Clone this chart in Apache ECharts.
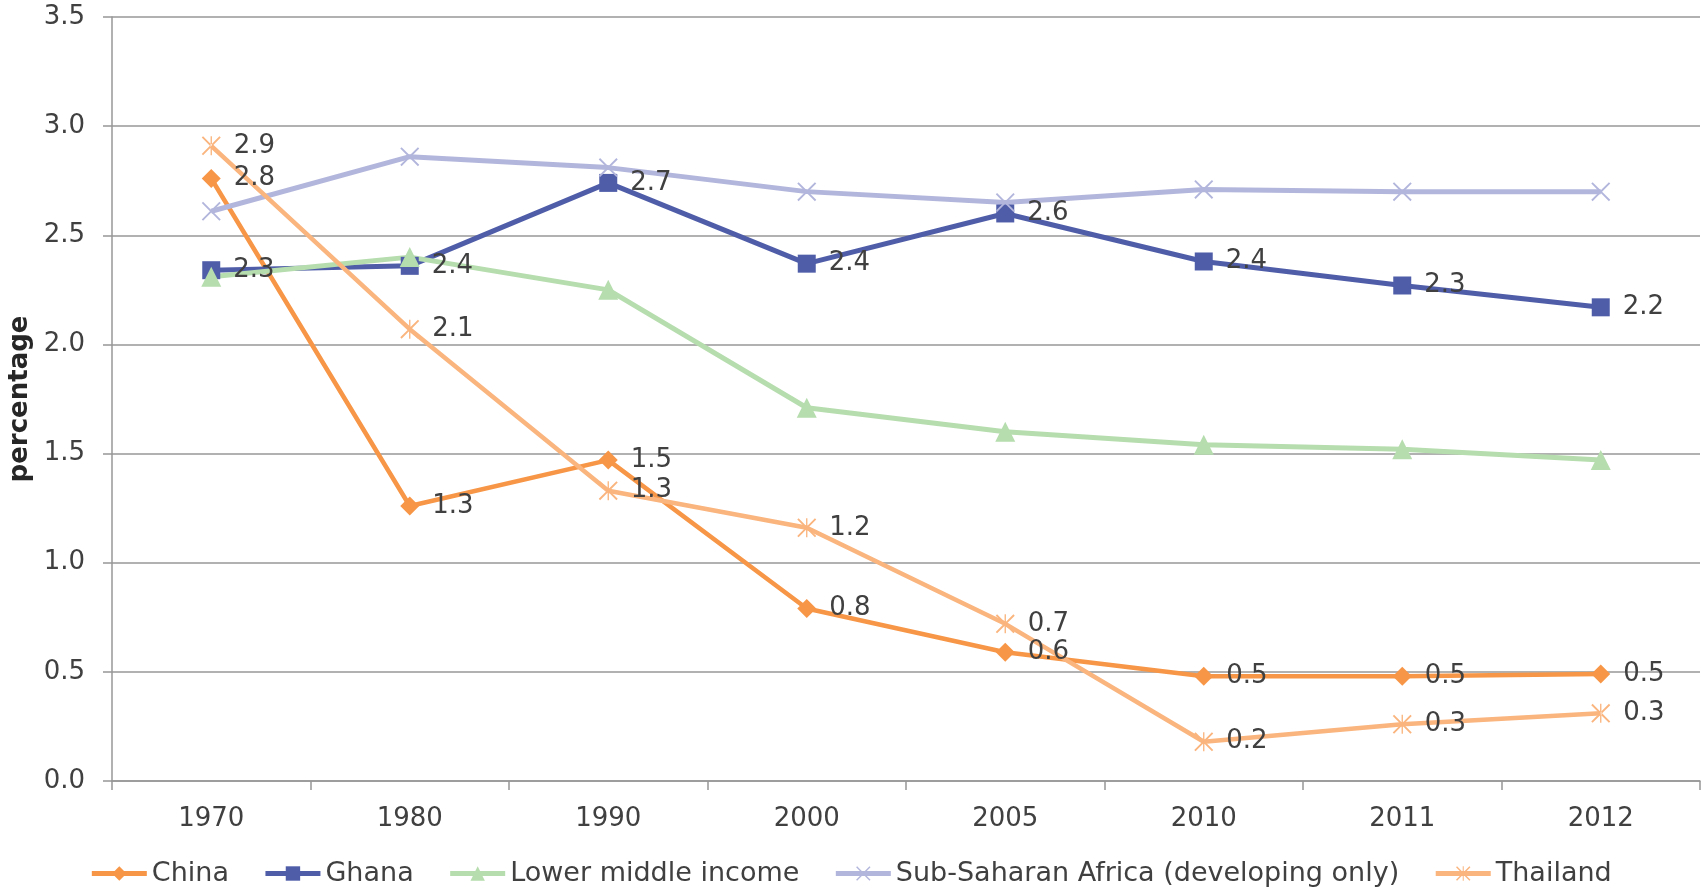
<!DOCTYPE html>
<html>
<head>
<meta charset="utf-8">
<script src="https://cdn.jsdelivr.net/npm/echarts@6/dist/echarts.min.js"></script>
<style>
  html, body { margin: 0; padding: 0; background: #fff; }
  #chart { width: 1701px; height: 889px; }
</style>
</head>
<body>
<div id="chart"></div>
<script>
// Categories (years) and values per series, in percent
const years = ['1970', '1980', '1990', '2000', '2005', '2010', '2011', '2012'];
const china = [2.76, 1.26, 1.47, 0.79, 0.59, 0.48, 0.48, 0.49];
const ghana = [2.34, 2.36, 2.74, 2.37, 2.60, 2.38, 2.27, 2.17];
const lowerMiddleIncome = [2.31, 2.40, 2.25, 1.71, 1.60, 1.54, 1.52, 1.47];
const subSaharanAfrica = [2.61, 2.86, 2.81, 2.70, 2.65, 2.71, 2.70, 2.70];
const thailand = [2.91, 2.07, 1.33, 1.16, 0.72, 0.18, 0.26, 0.31];
const yTicks = { min: 0, max: 3.5, step: 0.5 };

const FONT = '"DejaVu Sans", Verdana, sans-serif';
const TEXT = '#404040';
const GRID = '#979797';

// Thin "x" cross and asterisk-like marker shapes
const CROSS = 'path://M1.4,0 L10,8.6 L18.6,0 L20,1.4 L11.4,10 L20,18.6 L18.6,20 L10,11.4 L1.4,20 L0,18.6 L8.6,10 L0,1.4 Z';
const STAR = 'path://M1.4,0 L10,8.6 L18.6,0 L20,1.4 L11.4,10 L20,18.6 L18.6,20 L10,11.4 L1.4,20 L0,18.6 L8.6,10 L0,1.4 Z M9.3,0 L9.3,20 L10.7,20 L10.7,0 Z';

function valueLabel() {
  return {
    show: true,
    position: 'right',
    distance: 13,
    color: TEXT,
    fontFamily: FONT,
    fontSize: 26,
    formatter: p => p.value.toFixed(1)
  };
}

function lineSeries(name, data, color, symbol, size, width, labelled) {
  return {
    name: name,
    type: 'line',
    data: data,
    symbol: symbol,
    symbolSize: size,
    showAllSymbol: true,
    lineStyle: { color: color, width: width },
    itemStyle: { color: color },
    label: labelled ? valueLabel() : { show: false },
    emphasis: { disabled: true },
    animation: false
  };
}

const chart = echarts.init(document.getElementById('chart'), null, { renderer: 'canvas' });
chart.setOption({
  backgroundColor: '#ffffff',
  animation: false,
  grid: { left: 112, right: 1, top: 17, bottom: 108, containLabel: false, outerBoundsMode: 'none' },
  legend: {
    left: 'center',
    top: 855,
    itemWidth: 55,
    itemHeight: 18,
    itemGap: 34,
    lineStyle: { width: 5 },
    textStyle: { color: TEXT, fontFamily: FONT, fontSize: 27 },
    data: ['China', 'Ghana', 'Lower middle income', 'Sub-Saharan Africa (developing only)', 'Thailand']
  },
  xAxis: {
    type: 'category',
    data: years,
    boundaryGap: true,
    axisLine: { show: true, lineStyle: { color: GRID, width: 1.5 } },
    axisTick: { show: true, length: 9, lineStyle: { color: GRID, width: 1.5 } },
    axisLabel: { color: TEXT, fontFamily: FONT, fontSize: 26, margin: 25 },
    splitLine: { show: false }
  },
  yAxis: {
    type: 'value',
    min: yTicks.min,
    max: yTicks.max,
    interval: yTicks.step,
    name: 'percentage',
    nameLocation: 'middle',
    nameGap: 77,
    nameTextStyle: { color: '#262626', fontFamily: FONT, fontSize: 26, fontWeight: 'bold' },
    axisLine: { show: true, lineStyle: { color: GRID, width: 1.5 } },
    axisTick: { show: true, length: 9, lineStyle: { color: GRID, width: 1.5 } },
    axisLabel: { color: TEXT, fontFamily: FONT, fontSize: 26, margin: 27, formatter: v => v.toFixed(1) },
    splitLine: { show: true, lineStyle: { color: GRID, width: 1.5 } }
  },
  series: [
    lineSeries('China', china, '#F79646', 'diamond', 19, 4.5, true),
    lineSeries('Ghana', ghana, '#4F5DA9', 'rect', 18, 5, true),
    lineSeries('Lower middle income', lowerMiddleIncome, '#B6DDAE', 'triangle', 20, 5, false),
    lineSeries('Sub-Saharan Africa (developing only)', subSaharanAfrica, '#B3B6DC', CROSS, 19, 5, false),
    lineSeries('Thailand', thailand, '#FAB47D', STAR, 19, 4.5, true)
  ]
});
</script>
</body>
</html>
